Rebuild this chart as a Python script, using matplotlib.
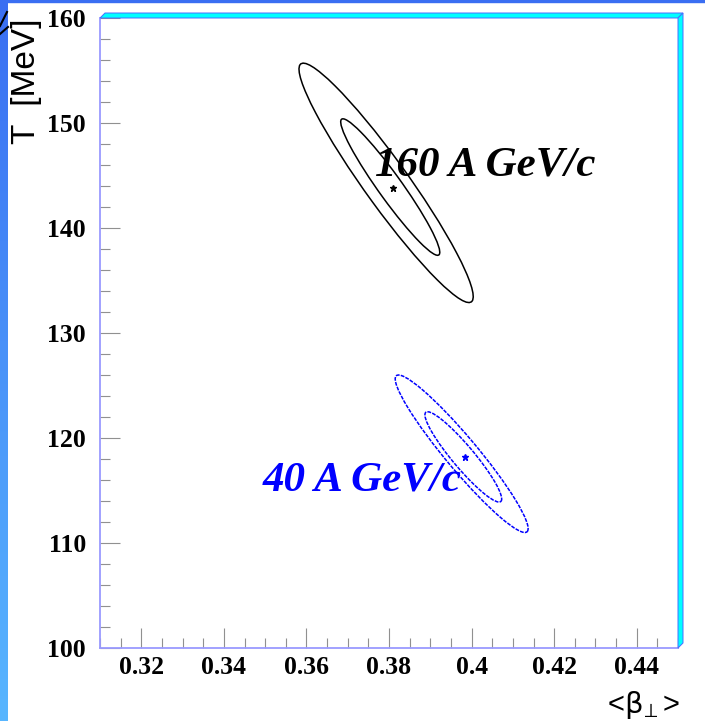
import numpy as np
import matplotlib
matplotlib.use('Agg')
import matplotlib.pyplot as plt
import matplotlib.transforms as transforms
from matplotlib.patches import Ellipse, Polygon, Rectangle
from matplotlib.lines import Line2D
from matplotlib.ticker import MultipleLocator

# =============================================================================
# values
# =============================================================================
energies = ['160 A GeV/c', '40 A GeV/c']
colors = ['black', '#0000ff']

# best fit points
best_beta = [0.3809, 0.3983]
best_T = [143.8, 118.2]

# contours per energy: [inner, outer] centre, half extents and correlation
ctr_beta = [[0.3803, 0.3793], [0.3980, 0.3976]]
ctr_T = [[143.9, 144.3], [118.2, 118.5]]
half_beta = [[0.0120, 0.0211], [0.0093, 0.0161]]
half_T = [[6.5, 11.4], [4.3, 7.5]]
rho = [[-0.955, -0.950], [-0.93, -0.95]]

# label anchors (left / baseline)
label_beta = [0.3766, 0.3494]
label_T = [145.0, 115.0]

W, H = 705, 721


def fpx(x, y):
    # pixel position -> figure fraction
    return (x / W, 1 - y / H)


def contour(ax, mx, my, hx, hy, r, **kw):
    e = Ellipse((0, 0), width=2 * np.sqrt(1 + r), height=2 * np.sqrt(1 - r),
                angle=45, fill=False, **kw)
    tr = transforms.Affine2D().scale(hx, hy).translate(mx, my)
    e.set_transform(tr + ax.transData)
    ax.add_patch(e)


fig = plt.figure(figsize=(W / 100, H / 100), dpi=100)
fig.patch.set_facecolor('white')

# slide decoration: blue strip on the left, thin bar on top
bg = fig.add_axes([0, 0, 8 / W, 1])
grad = np.linspace(0, 1, 256).reshape(-1, 1)
cmap = matplotlib.colors.LinearSegmentedColormap.from_list(
    'slide', ['#3a6ef2', '#58b6ff'])
bg.imshow(grad, aspect='auto', cmap=cmap, extent=[0, 1, 0, 1], origin='upper')
bg.axis('off')
fig.patches.append(Rectangle((0, 1 - 2 / H), 1, 2 / H, transform=fig.transFigure,
                             color='#3a6ef2', zorder=0))
# bits of the slide logo in the corner
for (x0, y0), (x1, y1) in [((7, 12), (0, 26)), ((0, 34), (8, 27))]:
    a, b = fpx(x0, y0), fpx(x1, y1)
    fig.add_artist(Line2D([a[0], b[0]], [a[1], b[1]], color='black', lw=1.5,
                          transform=fig.transFigure))

ax = fig.add_axes([100 / W, 1 - 648 / H, 578 / W, 630 / H])

for i in range(len(energies)):
    for j in range(2):
        contour(ax, ctr_beta[i][j], ctr_T[i][j], half_beta[i][j], half_T[i][j],
                rho[i][j], edgecolor=colors[i], lw=1.1,
                ls='-' if i == 0 else (0, (2.5, 0.8)))
    ax.plot(best_beta[i], best_T[i], marker='*', color=colors[i], ms=5, ls='none')
    ax.text(label_beta[i], label_T[i], energies[i], color=colors[i],
            fontsize=31, fontweight='bold', fontstyle='italic',
            family='Liberation Serif', ha='left', va='baseline')

ax.set_xlim(0.31, 0.45)
ax.set_ylim(100, 160)
ax.xaxis.set_major_locator(MultipleLocator(0.02))
ax.xaxis.set_minor_locator(MultipleLocator(0.005))
ax.yaxis.set_major_locator(MultipleLocator(10))
ax.yaxis.set_minor_locator(MultipleLocator(2))
ax.xaxis.set_major_formatter(matplotlib.ticker.FuncFormatter(
    lambda v, p: ('%.2f' % v).rstrip('0') if abs(v - 0.31) > 1e-6 and v < 0.449 else ''))

ax.tick_params(which='both', direction='in', color='#909090', width=0.8,
               top=False, right=False)
ax.tick_params(which='major', length=14.5)
ax.tick_params(which='minor', length=7.5)
ax.tick_params(axis='x', pad=6)
ax.tick_params(axis='y', pad=10)
for lab in ax.get_xticklabels() + ax.get_yticklabels():
    lab.set_family('Liberation Serif')
    lab.set_fontweight('bold')
    lab.set_fontsize(18.5)

for s in ['top', 'right']:
    ax.spines[s].set_visible(False)
for s in ['left', 'bottom']:
    ax.spines[s].set_color('#9a9aff')
    ax.spines[s].set_linewidth(1.3)

# cyan 3D frame on top and right
top_band = [fpx(100, 18), fpx(678, 18), fpx(683, 13), fpx(105, 13)]
right_band = [fpx(678, 18), fpx(683, 13), fpx(683, 643), fpx(678, 648)]
for band in [top_band, right_band]:
    fig.patches.append(Polygon(band, closed=True, transform=fig.transFigure,
                               facecolor='#00ffff', edgecolor='#4a6cff', lw=0.7))

fig.text(27 / W, 1 - 18 / H, 'T  [MeV]', rotation=90, ha='center', va='top',
         fontsize=24, family='Liberation Sans')
fig.text(680 / W, 1 - 705 / H, r'<$\mathrm{\beta}_{\!\perp}$>', ha='right',
         va='center', fontsize=21, family='Liberation Sans')

fig.savefig('out.png', dpi=100)
